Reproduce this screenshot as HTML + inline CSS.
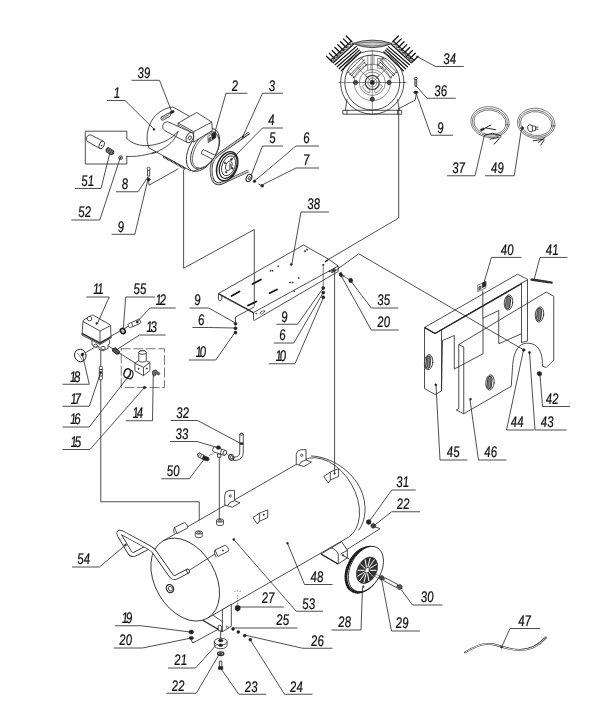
<!DOCTYPE html>
<html>
<head>
<meta charset="utf-8">
<title>Compressor exploded view</title>
<style>
html,body{margin:0;padding:0;background:#fff;}
body{width:600px;height:715px;overflow:hidden;}
svg{display:block;will-change:transform;}
.ld polyline,.ld line,.ld path{fill:none;stroke:#222;stroke-width:0.8;}
.tx text{font-family:"Liberation Sans",sans-serif;font-style:italic;font-size:15.4px;fill:#111;stroke:#111;stroke-width:0.25;}
.p{fill:none;stroke:#222;stroke-width:0.8;stroke-linejoin:round;stroke-linecap:round;}
.pw{fill:#fff;stroke:#222;stroke-width:0.8;stroke-linejoin:round;}
.pk{fill:#222;stroke:#222;stroke-width:0.6;}
.th{fill:none;stroke:#333;stroke-width:0.55;}
.bk{fill:none;stroke:#111;stroke-width:1.4;}
</style>
</head>
<body>
<svg width="600" height="715" viewBox="0 0 600 715">
<rect width="600" height="715" fill="#fff"/>
<!-- ===== detail box with capacitor parts 51/52 ===== -->
<g class="p">
<path d="M126.800 138.500V131.200H85.300V164H126.800V156.400"/>
<path d="M126.800 138.500C132.500 144 140 146 148 145.6C160 144.6 171 140 178 131.5"/>
<path d="M126.800 156.400C140 157 153 154 164 148C171 144 176 138 178 131.5"/>
</g>
<g class="pw">
<path d="M90.4 134.8L103.4 141.2L100 148.6L87.6 141.6A3.9 3.9 0 0 1 90.4 134.8Z"/>
<ellipse cx="101.7" cy="144.9" rx="2.4" ry="4.1" transform="rotate(24 101.7 144.9)"/>
</g>
<circle class="pk" cx="101.6" cy="145.6" r="0.5"/>
<g class="pw"><path d="M106 149.200l2.200-1.800 5.800 3.600-.6 3-2.800.6-4.400-2.800z" style="fill:#888"/></g>
<path class="p" d="M107.800 148l-1.200 2.600M109.600 149l-1.400 3M111.400 150.200l-1.400 3.200M113 151.600l-1.200 3" style="stroke-width:0.700;stroke:#111"/>
<circle class="pw" cx="120.6" cy="157.6" r="1.9"/><circle class="pk" cx="120.6" cy="157.6" r="0.7"/>

<!-- ===== motor ===== -->
<g class="pw">
<!-- body -->
<path d="M173 107C165 107.500 156 113 151.500 121C147 129 145.500 140 149 148L191.200 171L207 127Z" stroke="none"/>
<path d="M173 107C165 107.500 156 113 151.500 121C147 129 145.500 140 149 148" fill="none"/>
<path d="M173 107L196 120M149 148L191.200 171" fill="none"/>
</g>
<!-- base strip -->
<path d="M163.3 156.600L185.200 168.800" stroke="#222" stroke-width="2" fill="none" stroke-dasharray="1 0.5"/>
<g class="pw">
<!-- flange back and front -->
<ellipse cx="203" cy="149.800" rx="13.600" ry="23.600" transform="rotate(30 203 149.800)"/>
<path d="M192.500 172L199.400 168.600" fill="none"/>
<ellipse cx="204.900" cy="150.300" rx="11.600" ry="20.400" transform="rotate(30 204.900 150.300)"/>
<ellipse cx="205.700" cy="150.600" rx="10.600" ry="19.400" transform="rotate(30 205.700 150.600)" style="stroke-width:0.600"/>
<!-- shaft -->
<path d="M203.700 149.800L214.300 154.800A1.400 2.400 30 0 1 212.800 159.300L202.700 154.300A1.400 2.500 30 0 1 203.700 149.800Z"/>
</g>
<g class="pw">
<!-- terminal box -->
<path d="M178.100 123.100L196.700 112.500L211.800 122.100L212.300 130.500L193.700 142L178.100 132.500Z" />
<path d="M178.100 123.100L193.700 131.700L211.800 122.100M193.700 131.700V142" fill="none"/>
<path d="M178.600 125L193.500 133.400" fill="none" style="stroke-width:0.600"/>
</g>
<g class="pw">
<!-- capacitor on motor -->
<path d="M167.5 121.7L191.7 132.5L187.5 142.6L165 130.8A4.9 4.9 0 0 1 167.5 121.7Z"/>
<ellipse cx="189.8" cy="137.6" rx="3.4" ry="5.4" transform="rotate(25 189.8 137.6)"/>
<ellipse cx="189.8" cy="137.8" rx="1.4" ry="2" transform="rotate(25 189.8 137.8)"/>
</g>
<!-- nameplate -->
<g class="p">
<rect x="160.400" y="115" width="10.500" height="3.400" rx="1.700" transform="rotate(-30 165.600 116.700)"/>
<path d="M162.400 118.400l6.400-3.600" stroke-dasharray="0.800 0.700"/>
</g>
<path class="pk" d="M169.8 112l3.6-1.700 1 1.800-3.600 1.900z"/>
<circle class="pk" cx="154" cy="129.4" r="0.9"/>
<!-- key bracket (2) -->
<g class="pk"><path d="M207.800 136.500l7.400-4.600.6 5.800-7.600 5z" fill="#fff"/><path d="M211.600 134.200l3.600-2.200.5 5.400-3.600 2.400z"/><path d="M208.800 138.200l2-1.200v3.400l-2 1.400z" fill="#777"/></g>
<!-- arcs of detail over motor -->
<g class="p">
<path d="M148 145.6C160 144.6 171 140 178 131.5"/>
<path d="M152 153.7C156 152.6 160 150.6 164 148C171 144 176 138 178 131.5"/>
</g>
<!-- bolt 8 / washer 9 -->
<g class="pw"><rect x="147.5" y="169.6" width="2.2" height="6.5"/><circle cx="148.6" cy="168.8" r="1.5"/></g>
<path class="pk" d="M146.6 179.6l2-2 2 2-2 1.6z"/>
<g class="p"><path d="M148.6 181L149 185.2L178 169"/>
</g>

<!-- ===== pulley + belt ===== -->
<g class="p" style="stroke-linecap:butt">
<path d="M249.3 132.800L219 154C212.800 158.400 210.200 166 211.300 174C212.300 181 215.600 185.200 221 183.400L248.300 171" style="stroke-width:2.700;stroke:#222"/>
<path d="M249.3 132.800L219 154C212.800 158.400 210.200 166 211.300 174C212.300 181 215.600 185.200 221 183.400L248.300 171" style="stroke-width:1.400;stroke:#e4e4e4"/>
<path d="M249.3 132.800L219 154C212.800 158.400 210.200 166 211.300 174C212.300 181 215.600 185.200 221 183.400L248.300 171" style="stroke-width:0.400;stroke:#777"/>
</g>
<g class="pw">
<ellipse cx="227.2" cy="166.2" rx="9.8" ry="15.2" transform="rotate(22 227.2 166.2)" stroke-width="1.4"/>
<ellipse cx="228.2" cy="165.9" rx="8.2" ry="13" transform="rotate(22 228.2 165.9)" stroke-width="1.2"/>
<ellipse cx="228.6" cy="165.8" rx="6.4" ry="10.4" transform="rotate(22 228.6 165.8)"/>
<ellipse cx="228.8" cy="165.8" rx="3" ry="5" transform="rotate(22 228.8 165.8)"/>
</g>
<g class="pk"><circle cx="231.4" cy="159.4" r="0.9"/><circle cx="225" cy="163" r="0.8"/><circle cx="226.2" cy="172.2" r="0.8"/><circle cx="232.4" cy="168.4" r="0.8"/><path d="M229.2 162l2.500 3-2.500 5z" fill="#777" stroke="none"/></g>
<circle class="pk" cx="243" cy="136.8" r="0.9"/>
<!-- washer 5, bolt 6, 7 -->
<g class="pw"><ellipse cx="249" cy="178" rx="2.600" ry="3.800" transform="rotate(25 249 178)" stroke-width="1.1"/><ellipse cx="249.3" cy="178.1" rx="1" ry="1.6" transform="rotate(25 249.3 178.1)"/></g>
<circle class="pk" cx="254.500" cy="181.2" r="1.3"/>
<path class="p" d="M258.600 184l3 1.600" stroke-width="1.6"/><circle class="pk" cx="262.2" cy="185.800" r="1.4"/>

<!-- ===== compressor head ===== -->
<g class="p">
<circle cx="372.3" cy="82.5" r="31.7"/>
<circle cx="372.3" cy="82.5" r="27.5"/>
</g><g class="th">
<circle cx="372.3" cy="82.5" r="18.2"/>
<circle cx="372.3" cy="82.5" r="13"/>
<circle cx="372.3" cy="82.5" r="4.5"/>
</g>
<path class="p" style="stroke-width:1.300;stroke:#111" d="M326.5 56.2L332.3 62M418.1 56.2L412.3 62M329.31 53.31L335.11 59.11M415.29 53.31L409.49 59.11M332.12 50.42L337.92 56.22M412.48 50.42L406.68 56.22M334.93 47.53L340.73 53.33M409.67 47.53L403.87 53.33M337.74 44.64L343.54 50.44M406.86 44.64L401.06 50.44M340.55 41.75L346.35 47.55M404.05 41.75L398.25 47.55M343.36 38.86L349.16 44.66M401.24 38.86L395.44 44.66M346.17 35.97L351.97 41.77M398.43 35.97L392.63 41.77"/>
<path class="p" style="stroke-width:1.100;stroke:#111" d="M330.6 60.2L350.7 41.6M414 60.2L393.9 41.6M333.3 62.9L353.4 44.3M411.3 62.9L391.2 44.3"/>
<path class="th" style="stroke:#222;stroke-width:0.600" d="M330.6 60.2L336.17 60.24M414 60.2L408.43 60.24M333.47 57.54L333.3 62.9M411.13 57.54L411.3 62.9M333.47 57.54L339.04 57.59M411.13 57.54L405.56 57.59M336.34 54.89L336.17 60.24M408.26 54.89L408.43 60.24M336.34 54.89L341.91 54.93M408.26 54.89L402.69 54.93M339.21 52.23L339.04 57.59M405.39 52.23L405.56 57.59M339.21 52.23L344.79 52.27M405.39 52.23L399.81 52.27M342.09 49.57L341.91 54.93M402.51 49.57L402.69 54.93M342.09 49.57L347.66 49.61M402.51 49.57L396.94 49.61M344.96 46.91L344.79 52.27M399.64 46.91L399.81 52.27M344.96 46.91L350.53 46.96M399.64 46.91L394.07 46.96M347.83 44.26L347.66 49.61M396.77 44.26L396.94 49.61M347.83 44.26L353.4 44.3M396.77 44.26L391.2 44.3M350.7 41.6L350.53 46.96M393.9 41.6L394.07 46.96"/>
<path class="p" style="stroke-width:1.200;stroke:#111" d="M335.1 64.7L356.2 46.6M409.5 64.7L388.4 46.6M337.1 66.8L357.8 48.6M407.5 66.8L386.8 48.6M339.1 68.8L359.3 50.1M405.5 68.8L385.3 50.1M341.2 70.8L360.9 51.8M403.4 70.8L383.7 51.8"/>
<path class="p" d="M352.6 43.4Q372.3 36.8 392 43.4Q372.3 52 352.6 43.4Z" style="fill:#c8c8c8"/>
<path class="th" d="M355 43.4Q372.3 40.4 389.6 43.4M356 44.6Q372.3 47.6 388.6 44.6"/>
<circle class="p" cx="372.3" cy="82.5" r="7" style="stroke-width:1.100;stroke:#333"/>
<circle class="pk" cx="372.3" cy="82.5" r="2.200"/>
<circle class="pk" cx="355.6" cy="82.5" r="2.100" style="fill:#555;stroke-width:0.800"/>
<circle class="pk" cx="389" cy="82.5" r="2.100" style="fill:#555;stroke-width:0.800"/>
<circle class="pk" cx="372.3" cy="99.2" r="2.100" style="fill:#555;stroke-width:0.800"/>
<path class="th" style="stroke:#333" d="M362.300 86.500A10.800 10.800 0 0 0 369.500 93A3 3 0 0 0 367.500 88.500A6 6 0 0 1 365.800 85.300A2.200 2.200 0 0 0 362.300 86.500ZM382.300 86.500A10.800 10.800 0 0 1 375.100 93A3 3 0 0 1 377.100 88.500A6 6 0 0 0 378.800 85.300A2.200 2.200 0 0 1 382.300 86.500ZM365.500 74.500A10.800 10.800 0 0 1 379.100 74.500A2.500 2.500 0 0 1 376.500 77A6.500 6.500 0 0 0 368.100 77A2.500 2.500 0 0 1 365.500 74.500Z"/>
<path class="th" d="M338.500 82.500H406.500M372.3 49.500V114.500M372.3 82.500L388 66.800M372.3 82.500L356.600 66.800"/>
<path class="th" style="stroke:#222;stroke-width:0.700" d="M349.75 75.01L364.55 59.71A1.6 1.6 0 0 1 362.25 57.49L347.45 72.79A1.6 1.6 0 0 1 349.75 75.01ZM397.15 72.79L382.35 57.49A1.6 1.6 0 0 1 380.05 59.71L394.85 75.01A1.6 1.6 0 0 1 397.15 72.79ZM353.14 78.22L367.24 63.92A1.6 1.6 0 0 1 364.96 61.68L350.86 75.98A1.6 1.6 0 0 1 353.14 78.22ZM393.74 75.98L379.64 61.68A1.6 1.6 0 0 1 377.36 63.92L391.46 78.22A1.6 1.6 0 0 1 393.74 75.98Z"/>
<path class="th" d="M367.800 55.500V70.500M371 55.500V70.500M367.800 55.500H371M377.600 58.500H382.800V68.300H377.600ZM374 55.500V64M374 55.500H377.600"/>
<path class="p" d="M343.3 110.3H401.700V114.200H343.300ZM347 99.500L345.300 110.300M397.600 99.500L399.300 110.300M347 110.300V114.200M397.600 110.300V114.200"/>
<g class="pw"><rect x="414.900" y="79.300" width="1.800" height="7"/><ellipse cx="415.800" cy="78.500" rx="1.500" ry="1.100"/></g>
<path class="th" d="M414.900 81h1.800M414.900 82.500h1.800M414.900 84h1.800"/>
<ellipse class="pk" cx="415.800" cy="92.300" rx="2.200" ry="1.200"/>
<path class="p" d="M416.200 93.800L415.300 100L399.500 108.300"/>

<!-- ===== coils 37 / 49 ===== -->
<g class="p" style="stroke-width:0.600;stroke:#333">
<ellipse cx="490" cy="122.1" rx="19.20" ry="15.40" transform="rotate(8 490 122.1)"/>
<ellipse cx="490" cy="122.39999999999999" rx="17.65" ry="13.85" transform="rotate(8 490 122.1)"/>
<ellipse cx="490" cy="122.39999999999999" rx="16.10" ry="12.30" transform="rotate(8 490 122.1)"/>
<ellipse cx="536.2" cy="123.3" rx="18.80" ry="15.00" transform="rotate(8 536.2 123.3)"/>
<ellipse cx="536.2" cy="123.6" rx="17.25" ry="13.45" transform="rotate(8 536.2 123.3)"/>
<ellipse cx="536.2" cy="123.6" rx="15.70" ry="11.90" transform="rotate(8 536.2 123.3)"/>
</g>
<g class="p" style="stroke-width:0.900;stroke:#111">
<path d="M481.700 130L490.800 125M486 128L495.800 129.700M485 135L492.500 133.300L500.800 135.800M490 139.200L498.300 137.500M494.200 144.200L500.800 136.700"/>
<path d="M533.300 140.800L543.300 139.200M538.300 142.500L545 137.500M540.800 145L544.200 140"/>
</g>
<path class="pk" d="M480.300 129.400l3.200-1.500.8 1.700-3.200 1.500z"/>
<path class="pk" d="M520.800 128.600l1.500-2.200 1.500 1.300-1.500 2.200z"/>
<g class="pw"><ellipse cx="530.500" cy="128.300" rx="2.800" ry="3.600" transform="rotate(-20 530.500 128.300)"/><path d="M532.300 125.800l3.400 .6-.2 4-3 .6z"/><path d="M535.600 127.200h2.800M535.400 129.200h2.800" fill="none"/></g>
<!-- ===== plate 38 ===== -->
<g class="pw">
<path d="M218.500 293.500L303.500 245L328.300 259L338.200 266V271.500L254.500 320.300Q253.400 320.600 253.500 319.500V312.500Z"/>
<path d="M218.500 293.500L253.500 312.500L338.200 266" fill="none"/>
<path d="M218.500 293.500V299.600Q218.600 300.600 219.800 300.900L221.800 299.600V295.600" fill="none"/>
<path d="M219.600 294.800L253.900 313.400" fill="none" style="stroke-width:0.700"/>
</g>
<g class="p" style="stroke-width:1.700;stroke:#111">
<path d="M231.500 296L239.500 291.500M252.500 284L261 279.500M248 305.500L256.500 301.500M269.500 293.200L277 289.400"/>
</g>
<g class="pk">
<circle cx="270.500" cy="270.750" r="0.600"/><circle cx="272.500" cy="270.750" r="0.600"/><circle cx="278.250" cy="266.250" r="0.600"/>
<circle cx="290" cy="282.500" r="0.600"/><circle cx="292.500" cy="282.500" r="0.600"/><circle cx="298.750" cy="278" r="0.600"/><circle cx="294.250" cy="291.250" r="0.500"/>
<circle cx="305" cy="251.250" r="0.700"/><circle cx="307" cy="249.600" r="0.700"/><circle cx="291.250" cy="264.500" r="1"/>
<circle cx="256.200" cy="313.600" r="0.500"/>
</g>
<g class="p" style="stroke-width:0.600">
<ellipse cx="262.500" cy="312.200" rx="2.400" ry="1.100" transform="rotate(-28 262.500 312.200)"/>
<rect x="331.200" y="269.400" width="4.600" height="2.400" transform="rotate(-28 333.500 270.600)"/><rect x="332.200" y="269.900" width="2.600" height="1.400" transform="rotate(-28 333.500 270.600)" style="fill:#222"/><circle cx="329.300" cy="271.300" r="0.500" style="fill:#222"/>
<path d="M325.300 261.600l2.400-1.400" style="stroke-width:1.300"/>
<path d="M323.200 264.500V286.500"/><circle cx="323.200" cy="264.800" r="0.600" style="fill:#222"/>
</g>
<g class="pk"><circle cx="323.250" cy="288" r="1.500"/><circle cx="323.250" cy="292.600" r="1.500"/><circle cx="323.250" cy="297.300" r="1.500"/>
<circle cx="235.500" cy="323.750" r="1.500"/><circle cx="235.500" cy="328.200" r="1.500"/><circle cx="235.500" cy="332.600" r="1.500"/></g>
<g class="p">
<path d="M235.500 322V317L254 307"/>
</g>
<!-- bolt 35 / washer 20 -->
<path class="pk" d="M339.200 273.200l2-1 1.800 3.400-1.800 1.400-2-1.600z"/>
<path class="th" style="stroke:#222" d="M342.600 275.600l6.400 3.800M343 275.600l2.200.1M343 275.600l.9 1.900"/>
<path class="pk" d="M348.600 279.200l2.600-1.200 1.700 2.200-1 2.400-2.700-.4z"/>
<!-- ===== pressure switch group ===== -->
<g class="p"><path d="M100.750 345V501.750H199.250V531"/>
<path d="M84.500 353.300L94 347.600M110.750 336.250L138.500 320.600M108.750 346.250L136.250 363.750"/></g>
<g class="pw">
<path d="M92 339v6l4 2.400 3-1v3l4 1.500 5-2.500v-3.500l1.500-1v-3.600"/>
<ellipse cx="95.500" cy="345.600" rx="2" ry="1.500"/><ellipse cx="103" cy="348" rx="2.300" ry="1.600"/>
<path d="M83 321.500Q82.900 320.400 84 319.800L91.500 315.300Q92.500 314.800 93.500 315.300L109.800 324.600Q110.600 325.100 110.600 326.200L111 338L100 344.500L82 335Z"/>
<path d="M83 321.500L100 331L110.600 325.600M100 331V344.500" fill="none"/>
<path d="M87.500 317.600v2.200a2 1 0 0 0 4 0v-2.200a2 1 0 0 0-4 0z"/>
</g>
<path class="p" d="M82.300 333.600L100 343L110.800 336.800" style="stroke-width:1.500;stroke:#333"/>
<circle class="pk" cx="96.700" cy="323.500" r="0.900"/>
<!-- gauge 18 -->
<g class="pw"><ellipse cx="80.300" cy="355.500" rx="5.700" ry="6.300" transform="rotate(-20 80.300 355.500)" style="stroke-width:0.900"/></g>
<path class="th" style="stroke:#222" d="M77.500 353l5.500 8"/>
<path class="pk" d="M81 353.800l2.200-1 .9 1.400-1.500 2-1.300-.4z"/>
<!-- fittings 55, 12, 13 -->
<ellipse cx="122.800" cy="331" rx="2.300" ry="2.800" transform="rotate(-30 122.800 331)" style="fill:#bbb;stroke:#111;stroke-width:1.400"/>
<g class="pw"><path d="M128.600 323.700L138.600 319.300A1.300 2.200 -25 0 1 140.200 323.300L130.400 327.700A1.300 2.200 -25 0 1 128.600 323.700Z"/><circle cx="137.300" cy="322" r="1.100" class="pk"/><path d="M131.500 322.600l1.500 3.800" fill="none"/></g>
<path d="M112.800 348.800l2.600-1 4.200 3.600-.6 2.400-2.400.4-4-3z" style="fill:#555;stroke:#111;stroke-width:0.900"/>
<!-- valve 17 -->
<g class="pw"><rect x="99.300" y="366.300" width="3" height="13.500" rx="1"/><path d="M99.300 369.500h3M99.300 376h3" fill="none"/></g>
<circle class="pk" cx="100.750" cy="372.600" r="1.100"/>
<!-- dashed box -->
<path class="p" d="M121.250 348.750H164.500V387.500H121.250Z" stroke-dasharray="9 3.500" style="stroke:#555"/>
<!-- regulator 14 -->
<g class="pw">
<path d="M134.900 363.300L141.250 358.750L149.900 362.400V370.600L143.500 375.600L134.900 370.800Z"/>
<path d="M134.900 363.300L143.500 367.300L149.900 362.400M143.500 367.300V375.600" fill="none"/>
<path d="M138.750 352.500V360.300A3.750 1.800 0 0 0 146.250 360.300V352.500A3.750 1.800 0 0 0 138.750 352.500Z"/>
<ellipse cx="142.500" cy="352.500" rx="3.750" ry="1.800"/>
</g>
<circle class="pk" cx="138.600" cy="368.800" r="0.600"/><circle class="pk" cx="146.800" cy="368.600" r="0.600"/>
<!-- knob 16 -->
<g class="pw"><path d="M127.300 368.800l4.200 1.700a3.200 4.600 15 0 1-1.600 8.600l-4.200-1.700z" style="stroke-width:1.100"/><ellipse cx="127.200" cy="373.200" rx="3.100" ry="4.600" transform="rotate(18 127.200 373.200)" style="stroke-width:1.500"/></g>
<!-- right fitting -->
<g class="pk"><path d="M152.400 371.200l3-1.400 2.300 1.600 2.300 2-1.400 1.700-2.200-1.200-1.600 2.200-2.400-1.500z" fill="#666"/></g>
<circle class="pk" cx="144.500" cy="387.500" r="1.200"/>

<!-- ===== guard panels 45 / 46 ===== -->
<g class="pw">
<!-- back panel 45: top bar -->
<path d="M424.500 327.500L517.500 274.250L527.500 279.250V341L521.500 342.500V333.750L498.750 343.750V310.500L483 318V353.750L454.300 369V335.500L442.500 340.500L441.500 391L435 394.500L424.500 388.500Z"/>
<path d="M424.500 327.500L435 333.500L527.500 279.800M441.500 330V391M521.500 282.500V334" fill="none"/>
<path d="M424.800 327.700L435 333.500L521 284" fill="none" style="stroke-width:1.400"/>
</g>
<g class="pw">
<!-- front panel 46 -->
<path d="M458.750 344.500L546.250 292L553.750 296.250V360L546.250 367.500L542.500 366.250C542.500 358 541.500 353 538.500 348.500C534 342 524 341.500 519 346.500C514.500 351.500 513 359 512.500 367.500L511.250 386.250L463.750 413.750L456.250 410L458.750 408.500Z" fill-opacity="0.0"/>
<path d="M463.750 347V413.750M458.750 344.500L463.750 347" fill="none"/>
</g>
<g class="p" style="fill:#fff;stroke-width:0.800">
<ellipse cx="428.6" cy="362.2" rx="4.200" ry="7.600" transform="rotate(6 428.6 362.2)"/>
<ellipse cx="508.5" cy="302.5" rx="4.200" ry="7.600" transform="rotate(6 508.5 302.5)"/>
<ellipse cx="539.5" cy="314.5" rx="4.200" ry="7.600" transform="rotate(6 539.5 314.5)"/>
<ellipse cx="490" cy="382.5" rx="4.200" ry="7.600" transform="rotate(6 490 382.5)"/>
</g><g class="p" style="fill:#999;stroke-width:0.800">
<rect x="426.00" y="356.00" width="4.400" height="12.400" rx="2.200" transform="rotate(6 428.6 362.2)"/>
<rect x="505.90" y="296.30" width="4.400" height="12.400" rx="2.200" transform="rotate(6 508.5 302.5)"/>
<rect x="536.90" y="308.30" width="4.400" height="12.400" rx="2.200" transform="rotate(6 539.5 314.5)"/>
<rect x="487.40" y="376.30" width="4.400" height="12.400" rx="2.200" transform="rotate(6 490 382.5)"/>
</g><g class="th" style="stroke:#222">
<path d="M427.40 357.20v10M429.20 357.20v10M507.30 297.50v10M509.10 297.50v10M538.30 309.50v10M540.10 309.50v10M488.80 377.50v10M490.60 377.50v10"/></g>
<circle class="pk" cx="435.800" cy="384.800" r="1"/><circle class="pk" cx="470.500" cy="399.250" r="0.900"/>
<!-- latch 40, strip 41, nut 42, dots 43/44 -->
<g class="pk"><path d="M477.800 285.200l8-3.800v6.400l-8 3.800z" fill="#fff"/><path d="M482.400 283l3.400-1.600v4.600l-3.400 1.600z"/><path d="M478.800 287l2.200-1v2.800l-2.200 1z" fill="#888"/></g>
<path class="p" d="M482.800 291V318" />
<path class="p" d="M531.500 279.600L551.800 282.600" style="stroke-width:2.400;stroke:#333" stroke-dasharray="1.200 0.400"/>
<path class="pk" d="M537.300 372.200l2.400-.8 1.800 1.400-.2 2.500-2.300.8-1.700-1.500z" fill="#555"/>
<circle class="pk" cx="523.750" cy="350" r="1.300"/><circle class="pk" cx="529.500" cy="352.500" r="1.100"/>

<!-- ===== tank ===== -->
<g class="pw">
<!-- far end dome -->
<path d="M311 456C330 456.500 352 470 361 490C367 504 367 520 358.750 530L350 541L300 500Z" stroke="none"/>
<path d="M311 456C330 456.500 352 470 361 490C367 504 366.500 520 358.500 530.500" fill="none"/>
<path d="M303.700 460.100A30.200 44.600 -30 0 1 348.300 537.300L207.500 618.200L162.900 541Z"/>
<ellipse cx="185.200" cy="579.600" rx="30.200" ry="44.600" transform="rotate(-30 185.200 579.600)"/>
</g>
<!-- port on face -->
<g class="pw"><ellipse cx="170" cy="588.600" rx="3.500" ry="4.200" transform="rotate(-28 170 588.600)" style="stroke-width:1.200"/><ellipse cx="170.400" cy="588.700" rx="1.900" ry="2.500" transform="rotate(-28 170.400 588.700)"/></g>
<circle class="pk" cx="233.750" cy="539.500" r="1"/><circle class="pk" cx="287.500" cy="543.250" r="0.900"/>
<!-- fittings on tank top -->
<g class="pw">
<path d="M195.300 532.500v3.400a3.500 1.700 0 0 0 7 0v-3.400z"/><ellipse cx="198.800" cy="532.500" rx="3.500" ry="1.700"/><ellipse cx="198.800" cy="532.500" rx="1.800" ry="0.800"/>
<path d="M216.500 520.500v3.400a3.500 1.700 0 0 0 7 0v-3.400z"/><ellipse cx="220" cy="520.500" rx="3.500" ry="1.700"/><ellipse cx="220" cy="520.500" rx="1.800" ry="0.800"/>
</g>
<!-- brackets on tank -->
<g class="pw">
<path d="M224.75 505.00 L224.75 495.30 Q225.00 491.00 229.00 490.50 L234.50 490.30 L234.50 500.70 L240.00 502.80 L232.30 507.20 Z"/><path d="M234.50 500.70 Q229.00 501.50 227.50 505.60" fill="none"/><circle cx="230.20" cy="496.00" r="1.1"/>
<path d="M296.25 464.30 L296.25 454.60 Q296.50 450.30 300.50 449.80 L306.00 449.60 L306.00 460.00 L311.50 462.10 L303.80 466.50 Z"/><path d="M306.00 460.00 Q300.50 460.80 299.00 464.90" fill="none"/><circle cx="301.70" cy="455.30" r="1.1"/>
<path d="M252.90 517.60 L259.40 513.20 L267.70 509.80 L267.70 517.60 L259.40 521.30 L257.30 524.10 Z"/><path d="M259.40 513.20 L259.40 521.30" fill="none"/><circle class="pk" cx="263.75" cy="514.75" r="0.7"/>
<path d="M323.80 476.40 L330.30 472.00 L338.60 468.60 L338.60 476.40 L330.30 480.10 L328.20 482.90 Z"/><path d="M330.30 472.00 L330.30 480.10" fill="none"/><circle class="pk" cx="334.65" cy="473.55" r="0.7"/>
<!-- handle end sleeves -->
<path d="M174.500 527.500L184.500 522.500A2 3.500 -28 0 1 187.300 528.300L177 533.500Z"/><path d="M174.500 527.500Q172.500 529.500 174.500 533.500" fill="none"/>
<path d="M215 550L225.300 545.200A2 3.700 -28 0 1 228.300 551.200L218 556.500Z"/><path d="M215 550Q213.500 553 216.300 557.500" fill="none"/><circle cx="223" cy="550.500" r="0.600" class="pk"/>
</g>
<!-- handle 54 -->
<g class="p" style="stroke-linecap:round">
<path d="M147.500 547.500L135 554Q131.500 555.600 129.500 552.200L120.500 537" style="stroke-width:4.800;stroke:#222"/>
<path d="M147.500 547.500L135 554Q131.500 555.600 129.500 552.200L120.500 537" style="stroke-width:3.400;stroke:#fff"/>
</g>
<g class="p" style="stroke-linecap:butt">
<path d="M188 571L176.500 577Q173 578.600 171 575.500L154.500 552Q152.500 549.300 149 547.400L122.500 533Q117 530.500 119.700 535.600L121.500 538.600" style="stroke-width:4.800;stroke:#222"/>
<path d="M188 571L176.500 577Q173 578.600 171 575.500L154.500 552Q152.500 549.300 149 547.400L122.500 533Q117 530.500 119.700 535.600L121.500 538.600" style="stroke-width:3.400;stroke:#fff"/>
</g>
<ellipse class="pw" cx="188" cy="571" rx="1.300" ry="2.300" transform="rotate(-27 188 571)"/>
<path class="p" d="M189.200 570.300L214.500 554.300"/>
<circle class="pk" cx="125.500" cy="545" r="0.900"/>

<!-- ===== fittings 32/33/50 ===== -->
<g class="p"><path d="M219.300 457V519"/></g>
<g class="pw">
<path d="M239.750 434.300a1.750 .9 0 0 1 3.500 0V452Q243.250 459.600 236 460.300L233.500 460.500L233.200 457.200L235.500 457Q239.750 456.500 239.750 452Z"/>
<ellipse cx="241.500" cy="434.300" rx="1.750" ry="0.900"/>
<ellipse cx="231.300" cy="457.300" rx="2.500" ry="3" transform="rotate(-20 231.300 457.300)" style="stroke-width:1"/>
<ellipse cx="231.600" cy="457.300" rx="1.300" ry="1.700" transform="rotate(-20 231.600 457.300)"/>
<!-- valve 33 -->
<path d="M217.500 454h3.400v3.200h-3.400z"/>
<path d="M214.600 446.800L225.600 450.400A1.600 2.600 20 0 1 224 455.300L213.500 451.800A2 2.800 20 0 1 214.600 446.800Z"/>
<ellipse cx="224.800" cy="452.800" rx="1.600" ry="2.600" transform="rotate(20 224.800 452.800)"/>
<path d="M221.600 449.200l-1.200 4.800" fill="none"/>
</g>
<path class="pk" d="M240 442.800h3v1.600h-3z"/>
<ellipse class="pk" cx="218.400" cy="447.600" rx="2.100" ry="1.800"/>
<path class="th" style="stroke:#222" d="M226.500 453.800l2.300 1.200"/>
<!-- valve 50 -->
<g class="pw"><path d="M197.300 454l2-1.200 4.800 2.600-1.600 3.800-4.400-2.400z" style="fill:#ddd"/><path d="M199.600 453.400l-1.400 3M201.600 454.400l-1.500 3.300" fill="none" style="stroke-width:0.500"/></g>
<path class="pk" d="M203.800 455.600l4.600 1.800 .8 2-1.200 1.600-2.800-.4-3-1.600z" fill="#444"/>
<path class="th" style="stroke:#222" d="M209 455.600l4.500-2.100"/>
<!-- ===== leg, foot, bottom hardware ===== -->
<g class="pw">
<path d="M222.400 609.700L231.300 604.300V626.300L222.400 631.700Z"/>
<path d="M212.700 615L222.400 621.700" fill="none"/>
<path d="M202.700 620.300L222.400 631.700" fill="none" style="stroke-width:1.300"/>
<path d="M218.200 626.200a1.600 .800 0 0 1 3.200 0v4.600h-3.200z"/>
</g>
<path class="th" style="stroke:#222" d="M226.500 626l2.500 1.300M226.500 626q-1.200 1.600 1 2.600"/>
<!-- drain 27 -->
<path class="th" d="M237.600 595V605M234.800 590.500v2.500M237.500 590v2M240.200 590.500v2.500" stroke-dasharray="1.500 1"/>
<path class="pk" d="M235.200 606.600l2.400-1.600 2.500 1.600v3l-2.500 1.600-2.400-1.600z"/>
<!-- dots 25,26,24 etc -->
<g class="pk"><circle cx="233" cy="629" r="1.400"/><circle cx="238.300" cy="632" r="1.400"/><circle cx="244.700" cy="635.700" r="1.400"/><circle cx="250.300" cy="639.700" r="1.400"/></g>
<!-- nuts 19, 20 -->
<g class="pk"><ellipse cx="191.250" cy="632" rx="2.300" ry="1.900"/><ellipse cx="191.250" cy="638" rx="2.200" ry="1.600"/></g>
<path class="p" d="M191.300 640L192.700 643L218.700 629"/>
<!-- pad 21, washer 22, bolt 23 -->
<path class="p" d="M220.700 631.700V639"/>
<g class="pw"><path d="M214.300 641.700v3.600a6.400 3.400 0 0 0 12.800 0v-3.600z"/><ellipse cx="220.700" cy="641.700" rx="6.400" ry="3.500"/><ellipse cx="220.700" cy="640.600" rx="2.300" ry="1.300" class="pk"/></g>
<ellipse class="pk" cx="220.700" cy="645.300" rx="2" ry="1.300"/>
<g class="pw"><ellipse cx="220.700" cy="653.700" rx="3.100" ry="1.800" style="stroke-width:1.300"/></g><ellipse class="pk" cx="220.700" cy="653.700" rx="1.200" ry="0.700"/>
<g class="pw"><rect x="219.400" y="661" width="2.400" height="6.500"/></g><path class="pk" d="M218.400 666.600h4.400v2.800h-4.400z"/>
<!-- ===== wheel bracket, wheel 28, axle ===== -->
<g class="pw">
<path d="M321 554L341.700 541.700L347.300 550.300V558L338 564Z"/>
<path d="M331 547.900Q336.300 549 338.300 554.300V563.700M340.300 554.300L347.300 550.300" fill="none"/>
<path d="M321 554L338 564" fill="none" style="stroke-width:1.100"/>
</g>
<circle class="pk" cx="343" cy="555.300" r="0.800"/>
<path class="p" d="M347.300 549.300L380 528.750L373.500 526M343 555.300L349.500 559.300"/>
<g class="pk"><path d="M366.600 520.600l2.500-1.100 2 1.700-.4 2.500-2.500.8-1.900-1.600z"/><path d="M371.200 524.400l2.500-1.100 2 1.700-.4 2.500-2.500.8-1.900-1.600z" fill="#444"/></g>
<g class="pw">
<ellipse cx="363.600" cy="569.700" rx="15.600" ry="24" transform="rotate(27 363.600 569.700)" style="stroke-width:2.800;stroke:#111"/>
<ellipse cx="363.600" cy="569.700" rx="15.600" ry="24" transform="rotate(27 363.600 569.700)" style="stroke-width:1.400;stroke:#555;fill:none" stroke-dasharray="0.500 1.300"/>
<ellipse cx="365.900" cy="569" rx="15.400" ry="24.200" transform="rotate(27 365.900 569)"/>
<ellipse cx="367" cy="570.300" rx="9.600" ry="14.100" transform="rotate(27 367 570.300)" style="fill:#333;stroke-width:0.500"/>
</g>
<path d="M367.00 570.30L373.49 576.55M367.00 570.30L368.91 581.08M367.00 570.30L363.81 582.72M367.00 570.30L359.57 581.03M367.00 570.30L357.32 576.47M367.00 570.30L357.66 570.25M367.00 570.30L360.51 564.05M367.00 570.30L365.09 559.52M367.00 570.30L370.19 557.88M367.00 570.30L374.43 559.57M367.00 570.30L376.68 564.13M367.00 570.30L376.34 570.35" style="stroke:#fff;stroke-width:1;fill:none"/>
<ellipse cx="367.300" cy="570.300" rx="2.200" ry="3" transform="rotate(27 367.300 570.300)" class="pw"/>
<circle class="pk" cx="363.400" cy="586.700" r="0.800"/>
<path class="th" d="M368 569.500L380 576.500M367 572L379.500 579"/>
<!-- axle 29/30 -->
<g class="pk"><path d="M379.600 576.200l2.600-.8 1.800 1.700-.4 2.400-2.700.6-1.700-1.600z" fill="#444"/></g>
<g class="pw"><path d="M384.800 577.600L398 584.600L396.500 587.600L383.500 580.600Z"/></g>
<g class="pk"><path d="M397.700 585.200l2.800-.8 1.800 2-.6 2.600-2.900.6-1.700-2z" fill="#555"/></g>
<!-- cable 47 -->
<g class="p"><path d="M465 652.500C472 648 482 643 491 644C499 645 508 650 520 650C532 650 540 644 546 637.500" style="stroke-width:1.900"/><path d="M465 652.500C472 648 482 643 491 644C499 645 508 650 520 650C532 650 540 644 546 637.500" style="stroke-width:0.900;stroke:#fff"/></g>
<circle class="pk" cx="501.500" cy="647.300" r="0.900"/>

<!-- ===== assembly leader lines (on top) ===== -->
<g class="p">
<path d="M183.600 170V268.250L254.300 229.500V305.500"/>
<path d="M398.700 108.300V218L326.500 260.500"/>
<path d="M334.600 272V473.750"/>
<path d="M335 271L358.750 253.750L523.750 350"/>
</g>

<g class="ld">
<polyline points="131.5,80.3 159.5,80.3 172,112.5"/>
<polyline points="107,100.5 125,100.5 154,129"/>
<polyline points="75,188.5 101,188.5 110,152.5"/>
<polyline points="71.3,220 99.8,220 120.5,157"/>
<polyline points="116,191.75 138,191.75 148,177"/>
<polyline points="111.6,234.3 134.8,234.3 148.2,178.4"/>
<polyline points="247.5,93.25 226,93.25 214.5,133.75"/>
<polyline points="283,93.25 262.5,93.25 243,136"/>
<polyline points="283,128 262.5,128 231,160"/>
<polyline points="283,146 262.5,146 251,176"/>
<polyline points="319,146 296,146 254.5,181"/>
<polyline points="319,168 296,168 262,185"/>
<polyline points="329,212 301,212 291.75,264.5"/>
<polyline points="463.75,66.5 435.5,66.5 416,56"/>
<polyline points="455.75,98.25 427,98.25 415.75,85.5"/>
<polyline points="453,135.25 431,135.25 416,93"/>
<polyline points="447,175.75 475,175.75 484.5,135"/>
<polyline points="485,175.75 514.25,175.75 521.25,130"/>
<polyline points="86.25,297 109.25,297 97.5,323.25"/>
<polyline points="155,297 125.75,297 123.25,329.25"/>
<polyline points="175.75,308 150,308 136.25,322.5"/>
<polyline points="165.5,335 139.5,335 116.25,350"/>
<polyline points="62.5,384.25 89.25,384.25 82.5,355"/>
<polyline points="62.5,406.25 89.25,406.25 100.75,372.5"/>
<polyline points="62.5,427 89.25,427 129.5,375"/>
<polyline points="62.5,449.5 90,449.5 144.5,387.5"/>
<polyline points="125.75,420.75 152.5,420.75 153.25,375"/>
<polyline points="189.5,308 208.75,308 234.5,322.5"/>
<polyline points="192.5,327.5 208.75,327.5 234.5,328"/>
<polyline points="188.75,360 215.75,360 235,332.5"/>
<polyline points="276.25,324.25 297.5,324.25 323.25,288"/>
<polyline points="273.75,343 293.75,343 323.25,292.5"/>
<polyline points="268.75,363.75 295,363.75 323.5,297.5"/>
<polyline points="398.25,308 371.25,308 350.5,280.5"/>
<polyline points="398.75,330 371.25,330 340.75,275"/>
<polyline points="521.5,257.4 491.5,257.4 482.5,287.5"/>
<polyline points="567.5,257.4 540,257.4 534,280"/>
<polyline points="570,406.5 542.5,406.5 540,375"/>
<polyline points="566.5,430 535,430 529.5,352.5"/>
<polyline points="534,430 506.5,430 523.5,350"/>
<polyline points="467.5,460 440,460 436,385"/>
<polyline points="506.5,460 478.5,460 470,400"/>
<polyline points="170.75,420.5 197.5,420.5 241.25,443.75"/>
<polyline points="170,441.5 197,441.5 215.5,447"/>
<polyline points="161.25,478.75 189.25,478.75 204.5,458.75"/>
<polyline points="72,567 99.5,567 125.5,545"/>
<polyline points="115,625.75 141.25,625.75 190,632"/>
<polyline points="113.75,648 142.5,648 190,638.25"/>
<polyline points="168,668 195.5,668 216.25,645"/>
<polyline points="166.25,693.25 196.25,693.25 219.5,653.75"/>
<polyline points="266.25,694.25 238.75,694.25 220.5,668"/>
<polyline points="312.5,694.25 284.5,694.25 250,639.5"/>
<polyline points="233,628 297.5,628"/>
<polyline points="332.5,648.25 302.5,648.25 244.5,635"/>
<polyline points="238.75,607 283.75,607"/>
<polyline points="332.5,584.5 304.5,584.5 287.5,543.25"/>
<polyline points="323,611.25 296.25,611.25 233.75,539.5"/>
<polyline points="331.5,630 361,630 362.5,587.5"/>
<polyline points="420,631 391.5,631 381.5,579"/>
<polyline points="442.5,605 412.5,605 401.5,590"/>
<polyline points="415.75,490 391.75,490 369.5,521"/>
<polyline points="420,511.75 391.75,511.75 373.75,525.75"/>
<polyline points="540,628.5 510,628.5 501.5,647.5"/>
</g>
<g class="tx">
<text transform="translate(137.8 77.7) scale(0.74 1) skewX(4)">39</text>
<text transform="translate(114.1 97.9) scale(0.74 1) skewX(4)">1</text>
<text transform="translate(81.6 185.9) scale(0.74 1) skewX(4)">51</text>
<text transform="translate(78.6 217.4) scale(0.74 1) skewX(4)">52</text>
<text transform="translate(122.1 189.15) scale(0.74 1) skewX(4)">8</text>
<text transform="translate(118.1 231.7) scale(0.74 1) skewX(4)">9</text>
<text transform="translate(232.1 90.65) scale(0.74 1) skewX(4)">2</text>
<text transform="translate(269.1 90.65) scale(0.74 1) skewX(4)">3</text>
<text transform="translate(268.6 125.4) scale(0.74 1) skewX(4)">4</text>
<text transform="translate(269.6 143.4) scale(0.74 1) skewX(4)">5</text>
<text transform="translate(303.6 143.4) scale(0.74 1) skewX(4)">6</text>
<text transform="translate(303.6 165.4) scale(0.74 1) skewX(4)">7</text>
<text transform="translate(307.6 209.4) scale(0.74 1) skewX(4)">38</text>
<text transform="translate(443.6 63.9) scale(0.74 1) skewX(4)">34</text>
<text transform="translate(434.6 95.65) scale(0.74 1) skewX(4)">36</text>
<text transform="translate(437.6 132.65) scale(0.74 1) skewX(4)">9</text>
<text transform="translate(452.6 173.15) scale(0.74 1) skewX(4)">37</text>
<text transform="translate(491.35 173.15) scale(0.74 1) skewX(4)">49</text>
<text transform="translate(93.35 294.4) scale(0.74 1) skewX(4)">1<tspan dx="-2.8">1</tspan></text>
<text transform="translate(133.85 294.4) scale(0.74 1) skewX(4)">55</text>
<text transform="translate(155.85 305.4) scale(0.74 1) skewX(4)">1<tspan dx="-2.8">2</tspan></text>
<text transform="translate(146.6 332.4) scale(0.74 1) skewX(4)">1<tspan dx="-2.8">3</tspan></text>
<text transform="translate(70.1 381.65) scale(0.74 1) skewX(4)">1<tspan dx="-2.8">8</tspan></text>
<text transform="translate(70.85 403.65) scale(0.74 1) skewX(4)">1<tspan dx="-2.8">7</tspan></text>
<text transform="translate(70.35 424.4) scale(0.74 1) skewX(4)">1<tspan dx="-2.8">6</tspan></text>
<text transform="translate(70.85 446.9) scale(0.74 1) skewX(4)">1<tspan dx="-2.8">5</tspan></text>
<text transform="translate(132.85 418.15) scale(0.74 1) skewX(4)">1<tspan dx="-2.8">4</tspan></text>
<text transform="translate(194.6 305.4) scale(0.74 1) skewX(4)">9</text>
<text transform="translate(198.35 324.9) scale(0.74 1) skewX(4)">6</text>
<text transform="translate(195.85 357.4) scale(0.74 1) skewX(4)">1<tspan dx="-2.8">0</tspan></text>
<text transform="translate(281.6 321.65) scale(0.74 1) skewX(4)">9</text>
<text transform="translate(279.6 340.4) scale(0.74 1) skewX(4)">6</text>
<text transform="translate(275.85 361.15) scale(0.74 1) skewX(4)">1<tspan dx="-2.8">0</tspan></text>
<text transform="translate(377.6 305.4) scale(0.74 1) skewX(4)">35</text>
<text transform="translate(377.6 327.4) scale(0.74 1) skewX(4)">20</text>
<text transform="translate(501.1 254.8) scale(0.74 1) skewX(4)">40</text>
<text transform="translate(546.1 254.8) scale(0.74 1) skewX(4)">41</text>
<text transform="translate(546.1 403.9) scale(0.74 1) skewX(4)">42</text>
<text transform="translate(541.1 427.4) scale(0.74 1) skewX(4)">43</text>
<text transform="translate(511.1 427.4) scale(0.74 1) skewX(4)">44</text>
<text transform="translate(447.1 457.4) scale(0.74 1) skewX(4)">45</text>
<text transform="translate(484.6 457.4) scale(0.74 1) skewX(4)">46</text>
<text transform="translate(176.6 417.9) scale(0.74 1) skewX(4)">32</text>
<text transform="translate(175.85 438.9) scale(0.74 1) skewX(4)">33</text>
<text transform="translate(167.1 476.15) scale(0.74 1) skewX(4)">50</text>
<text transform="translate(77.6 564.4) scale(0.74 1) skewX(4)">54</text>
<text transform="translate(122.1 623.15) scale(0.74 1) skewX(4)">1<tspan dx="-2.8">9</tspan></text>
<text transform="translate(119.6 645.4) scale(0.74 1) skewX(4)">20</text>
<text transform="translate(174.6 665.4) scale(0.74 1) skewX(4)">21</text>
<text transform="translate(172.1 690.65) scale(0.74 1) skewX(4)">22</text>
<text transform="translate(245.1 691.65) scale(0.74 1) skewX(4)">23</text>
<text transform="translate(290.35 691.65) scale(0.74 1) skewX(4)">24</text>
<text transform="translate(276.6 625) scale(0.74 1) skewX(4)">25</text>
<text transform="translate(311.35 645.65) scale(0.74 1) skewX(4)">26</text>
<text transform="translate(262.1 603.25) scale(0.74 1) skewX(4)">27</text>
<text transform="translate(310.85 581.9) scale(0.74 1) skewX(4)">48</text>
<text transform="translate(302.6 608.65) scale(0.74 1) skewX(4)">53</text>
<text transform="translate(338.6 627.4) scale(0.74 1) skewX(4)">28</text>
<text transform="translate(396.1 628.4) scale(0.74 1) skewX(4)">29</text>
<text transform="translate(421.1 602.4) scale(0.74 1) skewX(4)">30</text>
<text transform="translate(396.6 487.4) scale(0.74 1) skewX(4)">31</text>
<text transform="translate(397.1 509.15) scale(0.74 1) skewX(4)">22</text>
<text transform="translate(518.6 625.9) scale(0.74 1) skewX(4)">47</text>
</g>
</svg>
</body>
</html>
